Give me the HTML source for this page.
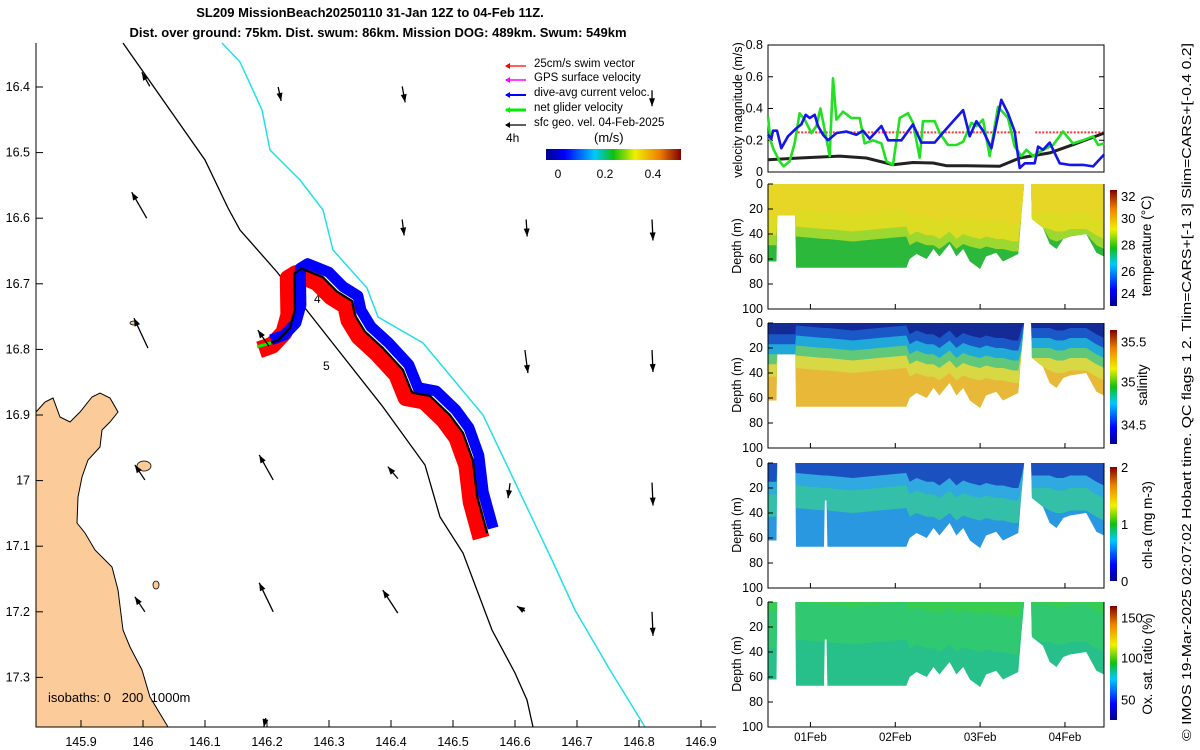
<!DOCTYPE html>
<html><head><meta charset="utf-8">
<style>
html,body{margin:0;padding:0;background:#fff;}
svg{display:block;font-family:"Liberation Sans",sans-serif;}
text{fill:#000;}
</style></head>
<body>
<svg id="fig" width="1200" height="750" viewBox="0 0 1200 750" xmlns="http://www.w3.org/2000/svg">
<defs>
<linearGradient id="jetH" x1="0" y1="0" x2="1" y2="0">
<stop offset="0" stop-color="#00008f"/><stop offset="0.14" stop-color="#0000ff"/><stop offset="0.36" stop-color="#00c8ff"/><stop offset="0.5" stop-color="#10c010"/><stop offset="0.66" stop-color="#f0f000"/><stop offset="0.84" stop-color="#f08000"/><stop offset="1" stop-color="#800000"/>
</linearGradient>
<linearGradient id="jetV" x1="0" y1="1" x2="0" y2="0">
<stop offset="0" stop-color="#00008f"/><stop offset="0.14" stop-color="#0000ff"/><stop offset="0.36" stop-color="#00c8ff"/><stop offset="0.5" stop-color="#10c010"/><stop offset="0.66" stop-color="#f0f000"/><stop offset="0.84" stop-color="#f08000"/><stop offset="1" stop-color="#800000"/>
</linearGradient>
</defs>
<text x="370" y="17" font-size="13" font-weight="bold" text-anchor="middle">SL209 MissionBeach20250110 31-Jan 12Z to 04-Feb 11Z.</text>
<text x="378" y="37" font-size="13" font-weight="bold" text-anchor="middle">Dist. over ground: 75km. Dist. swum: 86km. Mission DOG: 489km. Swum: 549km</text>
<g id="map">
<path d="M36,412 L45,402 L53,398 L60,417 L70,422 L80,412 L92,397 L100,393 L110,398 L118,412 L110,422 L102,430 L100,447 L88,460 L82,477 L78,497 L77,523 L85,533 L95,550 L112,567 L118,590 L123,630 L130,647 L142,670 L150,697 L168,727 L36,727 Z" fill="#fbcb99" stroke="#000" stroke-width="1"/>
<ellipse cx="144" cy="466" rx="7" ry="5" fill="#fbcb99" stroke="#000" stroke-width="0.8"/>
<ellipse cx="156" cy="585" rx="3" ry="4" fill="#fbcb99" stroke="#000" stroke-width="0.8"/>
<ellipse cx="134" cy="323" rx="4" ry="2" fill="#fbcb99" stroke="#000" stroke-width="0.8"/>
<path d="M123,43 L170,110 L205,160 L228,208 L240,230 L277,272 L305,308 L383,407 L425,465 L440,517 L463,553 L492,630 L515,673 L527,700 L533,727" fill="none" stroke="#000" stroke-width="1.3"/>
<path d="M222,43 L240,62 L262,110 L270,150 L300,180 L323,210 L333,250 L367,288 L378,317 L423,343 L483,415 L552,560 L575,610 L610,670 L645,727" fill="none" stroke="#22e0e8" stroke-width="1.5"/>
<text x="48" y="702" font-size="13" xml:space="preserve">isobaths: 0   200  1000m</text>
<text x="314" y="303" font-size="12">4</text>
<text x="323" y="370" font-size="12">5</text>
<line x1="36" y1="43" x2="36" y2="727" stroke="#000" stroke-width="1"/>
<line x1="36" y1="727" x2="716" y2="727" stroke="#000" stroke-width="1"/>
<g id="maptracks"></g>
<g id="mapticks"></g>
<g id="arrows"></g>
</g>
<g id="legend">
<text x="534" y="67" font-size="11.5">25cm/s swim vector</text>
<text x="534" y="81" font-size="11.5">GPS surface velocity</text>
<text x="534" y="96" font-size="11.5">dive-avg current veloc.</text>
<text x="534" y="111" font-size="11.5">net glider velocity</text>
<text x="534" y="126" font-size="11.5">sfc geo. vel. 04-Feb-2025</text>
<line x1="506" y1="66" x2="526" y2="66" stroke="#f00" stroke-width="1.2"/><path d="M505,66 l5,-3 v6 z" fill="#f00"/>
<line x1="506" y1="80" x2="526" y2="80" stroke="#f0f" stroke-width="1.5"/><path d="M505,80 l5,-3 v6 z" fill="#f0f"/>
<line x1="506" y1="95" x2="526" y2="95" stroke="#00f" stroke-width="2"/><path d="M505,95 l5,-3 v6 z" fill="#00f"/>
<line x1="506" y1="110" x2="526" y2="110" stroke="#0e0" stroke-width="3"/><path d="M505,110 l5,-3 v6 z" fill="#0e0"/>
<line x1="506" y1="125" x2="526" y2="125" stroke="#000" stroke-width="1.2"/><path d="M505,125 l5,-3 v6 z" fill="#000"/>
<text x="506" y="142" font-size="12">4h</text>
<text x="594" y="142" font-size="13">(m/s)</text>
<rect x="546" y="149" width="135" height="11" fill="url(#jetH)"/>
<text x="558" y="178" font-size="12" text-anchor="middle">0</text>
<text x="605" y="178" font-size="12" text-anchor="middle">0.2</text>
<text x="653" y="178" font-size="12" text-anchor="middle">0.4</text>
</g>
<g id="vel"></g>
<g id="sections"></g>
<text transform="translate(1191,741) rotate(-90)" font-size="12.5" textLength="698" lengthAdjust="spacingAndGlyphs">© IMOS 19-Mar-2025 02:07:02 Hobart time. QC flags 1 2. Tlim=CARS+[-1 3] Slim=CARS+[-0.4 0.2]</text>
</svg>
<script>
// ---- map data ----
const trackLon=[146.197,146.218,146.237,146.245,146.244,146.256,146.290,146.313,146.337,146.342,146.358,146.387,146.419,146.434,146.463,146.495,146.516,146.532,146.539,146.555];
const trackLat=[16.793,16.786,16.767,16.740,16.684,16.677,16.690,16.712,16.726,16.748,16.773,16.798,16.831,16.866,16.871,16.900,16.927,16.969,17.025,17.080];
const lonTicks=[145.9,146,146.1,146.2,146.3,146.4,146.5,146.6,146.7,146.8,146.9];
const latTicks=[16.4,16.5,16.6,16.7,16.8,16.9,17,17.1,17.2,17.3];
const arrowLon=[146.011,146.218,146.418,146.821,146.006,146.418,146.618,146.821,146.008,146.203,146.616,146.821,146.003,146.210,146.411,146.592,146.821,146.003,146.210,146.411,146.616,146.821,146.198];
const arrowLat=[16.399,16.400,16.399,16.405,16.600,16.602,16.602,16.602,16.798,16.795,16.801,16.801,16.999,16.999,16.997,17.004,17.003,17.200,17.200,17.202,17.199,17.200,17.362];
const arrowU=[-0.08,0.03,0.03,0.00,-0.15,0.02,0.01,0.01,-0.14,-0.11,0.03,0.01,-0.10,-0.14,-0.10,-0.02,0.01,-0.10,-0.14,-0.15,-0.08,0.01,-0.02];
const arrowV=[0.14,-0.14,-0.16,-0.16,0.26,-0.16,-0.17,-0.21,0.30,0.16,-0.23,-0.22,0.15,0.25,0.12,-0.15,-0.23,0.15,0.29,0.23,0.05,-0.24,-0.09];
// ---- velocity panel data (days since 31-Jan 12Z) ----
const blueT=[0,.039,.059,.106,.157,.236,.334,.393,.444,.491,.550,.589,.648,.707,.806,.923,1.041,1.120,1.198,1.336,1.415,1.572,1.709,1.807,1.965,2.083,2.299,2.377,2.456,2.534,2.633,2.750,2.829,2.908,2.967,3.026,3.143,3.183,3.242,3.320,3.438,3.556,3.713,3.831,3.961];
const blueV=[.235,.21,.26,.26,.15,.225,.275,.3,.36,.34,.36,.29,.235,.2,.245,.255,.235,.26,.21,.29,.2,.2,.3,.185,.185,.26,.39,.225,.32,.26,.15,.455,.37,.255,.025,.055,.055,.16,.14,.185,.055,.045,.045,.035,.11];
const greenT=[0,.028,.067,.138,.185,.255,.314,.373,.432,.511,.570,.617,.668,.727,.766,.806,.884,.982,1.081,1.139,1.238,1.336,1.395,1.473,1.552,1.650,1.709,1.788,1.827,1.965,2.024,2.122,2.220,2.299,2.397,2.456,2.534,2.613,2.711,2.829,2.908,2.986,3.045,3.124,3.242,3.360,3.477,3.595,3.713,3.831,3.890,3.961];
const greenV=[.35,.2,.14,.067,.036,.067,.18,.37,.33,.245,.29,.4,.265,.1,.59,.33,.38,.34,.34,.18,.2,.18,.067,.046,.34,.37,.31,.09,.32,.32,.245,.17,.17,.19,.31,.29,.33,.1,.41,.34,.16,.1,.14,.1,.14,.17,.255,.18,.2,.225,.17,.18];
const blackT=[0,.373,.845,1.159,1.473,1.709,1.945,2.102,2.338,2.731,2.967,3.320,3.635,3.961];
const blackV=[.077,.088,.1,.088,.046,.06,.057,.04,.04,.036,.088,.12,.18,.245];
const swimT=[[0.35,2.97],[3.15,3.96]];
const swimV=[0.25,0.25];
const velTicks=[0,0.2,0.4,0.6,0.8];
const dateTickT=[0.5,1.5,2.5,3.5];
const dateTickLabels=['01Feb','02Feb','03Feb','04Feb'];
// ---- section data ----
const secT=[0,0.1,0.11,0.32,0.33,0.66,0.67,0.69,0.7,1.0,1.3,1.63,1.67,1.75,1.87,1.95,2.02,2.14,2.22,2.30,2.38,2.5,2.57,2.69,2.77,2.89,2.95,2.99,3.02,3.10,3.11,3.24,3.32,3.40,3.48,3.56,3.75,3.87,3.96];
const tempBottom=[62,62,25,25,67,67,67,67,67,67,67,67,60,56,60,52,58,48,58,52,62,68,58,55,62,58,56,22,0,0,28,35,48,52,44,42,40,55,58];
const chlBottom=[62,62,0,0,67,67,30,30,67,67,67,67,60,56,60,52,58,48,58,52,62,68,58,55,62,58,56,22,0,0,28,35,48,52,44,42,40,55,58];
const secMld=[45,45,45,45,38,40,40,40,40,42,40,38,45,42,45,45,48,42,48,44,46,48,46,48,48,50,50,40,40,40,40,40,40,42,42,40,40,45,48];
const depthTicks=[0,20,40,60,80,100];

const NS='http://www.w3.org/2000/svg';
const svg=document.getElementById('fig');
function mk(tag,attrs,parent){const e=document.createElementNS(NS,tag);for(const k in attrs)e.setAttribute(k,attrs[k]);parent.appendChild(e);return e;}

const mx=lon=>143+(lon-146)*620;
const my=lat=>87+(lat-16.4)*656;
const mapTr=document.getElementById('maptracks');
function trackPath(dx,dy){return trackLon.map((l,i)=>(i?'L':'M')+(mx(l)+dx).toFixed(1)+','+(my(trackLat[i])+dy).toFixed(1)).join(' ');}
let p=mk('path',{d:trackPath(-6,5),fill:'none',stroke:'#f00','stroke-width':17,'stroke-linejoin':'round','stroke-linecap':'butt'},mapTr);


p=mk('path',{d:trackPath(6,-5),fill:'none',stroke:'#00f','stroke-width':11,'stroke-linejoin':'round','stroke-linecap':'butt'},mapTr);


p=mk('path',{d:trackPath(0,0),fill:'none',stroke:'#000','stroke-width':2.2,'stroke-linejoin':'round'},mapTr);


p=mk('line',{x1:mx(trackLon[0])-8,y1:my(trackLat[0])+2,x2:mx(trackLon[0])+6,y2:my(trackLat[0])-2,stroke:'#0e0','stroke-width':3},mapTr);



const mt=document.getElementById('mapticks');
lonTicks.forEach(v=>{const x=mx(v);
 if(x>40){const t=mk('line',{x1:x,y1:727,x2:x,y2:720,stroke:'#000'},mt);
 
 }
 const l=mk('text',{x:x,y:746,'font-size':12.5,'text-anchor':'middle'},mt);l.textContent=String(v);
 
 });
latTicks.forEach(v=>{const y=my(v);
 const t=mk('line',{x1:36,y1:y,x2:43,y2:y,stroke:'#000'},mt);
 
 
 const l=mk('text',{x:30,y:y+4,'font-size':12.5,'text-anchor':'end'},mt);l.textContent=String(v);
 
 });

const ar=document.getElementById('arrows');
arrowLon.forEach((lon,i)=>{const x0=mx(lon),y0=my(arrowLat[i]);const x1=x0+arrowU[i]*100,y1=y0-arrowV[i]*100;
 const a=mk('line',{x1:x0,y1:y0,x2:x1,y2:y1,stroke:'#000','stroke-width':1.3},ar);
 
 
 const ang=Math.atan2(y1-y0,x1-x0),L=8,W=3;
 const bx=x1-L*Math.cos(ang),by=y1-L*Math.sin(ang);
 const h=mk('path',{d:`M${x1},${y1} L${bx-W*Math.sin(ang)},${by+W*Math.cos(ang)} L${bx+W*Math.sin(ang)},${by-W*Math.cos(ang)} Z`,fill:'#000'},ar);
 
 });

const X0=768,X1=1104;
const tx=t=>X0+t*(X1-X0)/3.96;
const vg=document.getElementById('vel');
const vy=v=>172-v*158.75;
let r=mk('rect',{x:X0,y:45,width:X1-X0,height:127,fill:'none',stroke:'#000'},vg);


velTicks.forEach(v=>{const y=vy(v);
 const t=mk('line',{x1:X0,y1:y,x2:X0+5,y2:y,stroke:'#000'},vg);
 
 
 const t2=mk('line',{x1:X1,y1:y,x2:X1-5,y2:y,stroke:'#000'},vg);
 
 
 const l=mk('text',{x:763,y:y+4,'font-size':12.5,'text-anchor':'end'},vg);l.textContent=String(v);
 
 });
let vl=mk('text',{transform:'translate(742,110) rotate(-90)','font-size':12.5,'text-anchor':'middle'},vg);vl.textContent='velocity magnitude (m/s)';


swimT.forEach((seg,i)=>{const s=mk('line',{x1:tx(seg[0]),y1:vy(swimV[i]),x2:tx(seg[1]),y2:vy(swimV[i]),stroke:'#f33','stroke-width':2,'stroke-dasharray':'2,1.5'},vg);
 
 });
function series(T,V,col,w){return mk('polyline',{points:T.map((t,i)=>tx(t).toFixed(1)+','+vy(V[i]).toFixed(1)).join(' '),fill:'none',stroke:col,'stroke-width':w,'stroke-linejoin':'round'},vg);}
let s1=series(blackT,blackV,'#222',3);


let s2=series(greenT,greenV,'#22e022',2.6);


let s3=series(blueT,blueV,'#1515e8',2.6);



const sg=document.getElementById('sections');
const panels=[
 {top:184,bottom:tempBottom,name:'temperature',layers:[['#2cb83a',999],['#9cd830',4],['#dcdc22',-4],['#e8d626',-18]],label:'temperature (°C)',lx:1151,ticks:['24','26','28','30','32'],tickY:[0.11,0.30,0.53,0.76,0.95],cb:[190,306]},
 {top:323,bottom:tempBottom,name:'salinity',layers:[['#e8b838',999],['#d8d844',-2],['#60c878',-12],['#20a8d8',-20],['#1a58c8',-28],['#142a96',-36]],label:'salinity',lx:1147,ticks:['34.5','35','35.5'],tickY:[0.17,0.55,0.9],cb:[330,444]},
 {top:463,bottom:chlBottom,name:'chlorophyll',layers:[['#2a98e0',999],['#34c0a8',-2],['#30a8e0',-20],['#1a50c0',-30]],label:'chl-a (mg m-3)',lx:1152,ticks:['0','1','2'],tickY:[0,0.5,1],cb:[467,581]},
 {top:602,bottom:chlBottom,name:'oxygen',layers:[['#28c08a',999],['#30c870',-8],['#38cc50',-38]],label:'Ox. sat. ratio (%)',lx:1152,ticks:['50','100','150'],tickY:[0.18,0.55,0.9],cb:[606,720]}
];
panels.forEach(P=>{
 const dy=d=>P.top+d*1.25;
 const g=mk('g',{},sg);
 
 
 P.layers.forEach(L=>{
  const pts=[];
  secT.forEach((t,i)=>{const b=P.bottom[i];const d=Math.max(0,Math.min(b,secMld[i]+L[1]));pts.push(tx(t).toFixed(1)+','+dy(d).toFixed(1));});
  for(let i=secT.length-1;i>=0;i--){pts.push(tx(secT[i]).toFixed(1)+','+dy(0).toFixed(1));}
  const pl=mk('polygon',{points:pts.join(' '),fill:L[0]},g);
  
  
 });
 secT.forEach((t,i)=>{if(i<secT.length-1&&P.bottom[i]===0&&P.bottom[i+1]===0){
  const m=mk('rect',{x:tx(t),y:P.top-1,width:tx(secT[i+1])-tx(t),height:127,fill:'#fff'},g);
  
  }});
 const ax=mk('path',{d:`M${X0},${P.top} V${P.top+125} H${X1} V${P.top}`,fill:'none',stroke:'#000'},g);
 
 
 depthTicks.forEach(d=>{const y=dy(d);
  const t=mk('line',{x1:X0,y1:y,x2:X0+5,y2:y,stroke:'#000'},g);
  
  
  const l=mk('text',{x:763,y:y+4,'font-size':12.5,'text-anchor':'end'},g);l.textContent=String(d);
  
  });
 dateTickT.forEach(t=>{const x=tx(t);
  const k=mk('line',{x1:x,y1:P.top+125,x2:x,y2:P.top+120,stroke:'#000'},g);
  
  });
 const yl=mk('text',{transform:`translate(741,${P.top+62}) rotate(-90)`,'font-size':12.5,'text-anchor':'middle'},g);yl.textContent='Depth (m)';
 
 
 const cb=mk('rect',{x:1110,y:P.cb[0],width:7,height:P.cb[1]-P.cb[0],fill:'url(#jetV)'},g);
 
 
 P.ticks.forEach((tk,i)=>{const y=P.cb[1]-P.tickY[i]*(P.cb[1]-P.cb[0]);
  const l=mk('text',{x:1121,y:y+5,'font-size':13},g);l.textContent=tk;
  
  });
 const cl=mk('text',{transform:`translate(${P.lx},${P.top+62}) rotate(-90)`,'font-size':13.5,'text-anchor':'middle'},g);cl.textContent=P.label;
 
 
});
dateTickT.forEach((t,i)=>{const l=mk('text',{x:tx(t),y:741,'font-size':11.5,'text-anchor':'middle'},sg);l.textContent=dateTickLabels[i];
 
 });
</script>
</body></html>
